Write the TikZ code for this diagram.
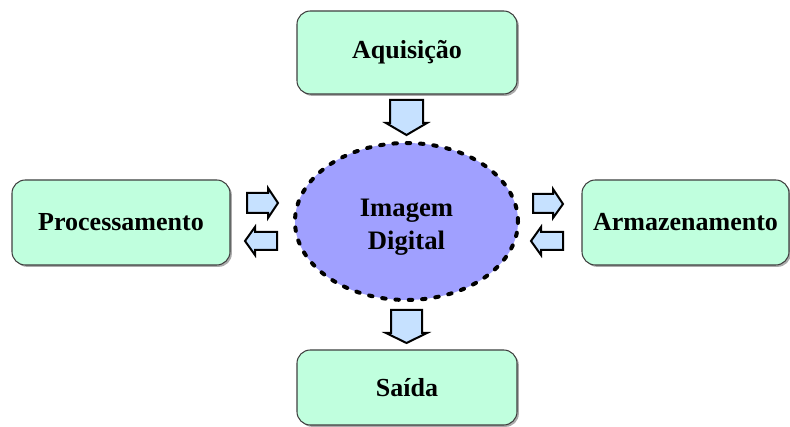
\documentclass[tikz,border=0pt]{standalone}
\usepackage{fontspec}
\setmainfont{Liberation Serif}
\usetikzlibrary{shapes.geometric,shadows}
\definecolor{mint}{HTML}{C0FFDE}
\definecolor{peri}{HTML}{A0A0FF}
\definecolor{arrowblue}{HTML}{C6E1FF}
\tikzset{
  stagebox/.style={draw=black!75, line width=0.8pt, fill=mint, rounded corners=10pt,
    drop shadow={shadow xshift=1.4pt, shadow yshift=-1.4pt, fill=black!55, opacity=0.6},
    font=\bfseries\fontsize{19.5}{24.75}\selectfont, align=center, inner sep=0pt},
  blockarrow/.style={draw=black, line width=1.5pt, fill=arrowblue, line join=miter},
}
\begin{document}
\begin{tikzpicture}[x=0.75pt,y=-0.75pt]
\useasboundingbox (0,0) rectangle (790,427);
\clip (0,0) rectangle (790,427);
% boxes
\node[stagebox, minimum width=165pt, minimum height=62.25pt] (aq) at (407,52.5) {Aquisição};
\node[stagebox, minimum width=163.5pt, minimum height=63.75pt] (pr) at (121,222.5) {Processamento};
\node[stagebox, minimum width=155.25pt, minimum height=63.75pt] (ar) at (685.5,222.5) {Armazenamento};
\node[stagebox, minimum width=165pt, minimum height=56.25pt] (sa) at (407,387.5) {Saída};
% central ellipse
\node[ellipse, fill=peri, draw=black, line width=3pt, line cap=round,
  dash pattern=on 2.6pt off 7.4pt, minimum width=167.25pt, minimum height=117.75pt,
  inner sep=0pt] (im) at (406.5,221.5) {};
\node[font=\bfseries\fontsize{20}{24.75}\selectfont, align=center, inner sep=0pt]
  (imtext) at (406.5,227) {Imagem\\Digital};
% block arrows
\draw[blockarrow] (390,100) -- (423,100) -- (423,123) -- (427,123) -- (406.5,135) -- (386,123) -- (390,123) -- cycle;
\draw[blockarrow] (391,310) -- (422,310) -- (422,333) -- (427,333) -- (406.5,343) -- (386,333) -- (391,333) -- cycle;
% left pair
\draw[blockarrow] (247,193) -- (268,193) -- (268,188) -- (278,203) -- (268,218) -- (268,213) -- (247,213) -- cycle;
\draw[blockarrow] (277,232) -- (255,232) -- (255,227) -- (245,241) -- (255,255) -- (255,250) -- (277,250) -- cycle;
% right pair
\draw[blockarrow] (533,194) -- (553,194) -- (553,189) -- (563,204) -- (553,218) -- (553,213) -- (533,213) -- cycle;
\draw[blockarrow] (563,232) -- (541,232) -- (541,227) -- (531,241) -- (541,255) -- (541,250) -- (563,250) -- cycle;
\end{tikzpicture}
\end{document}
